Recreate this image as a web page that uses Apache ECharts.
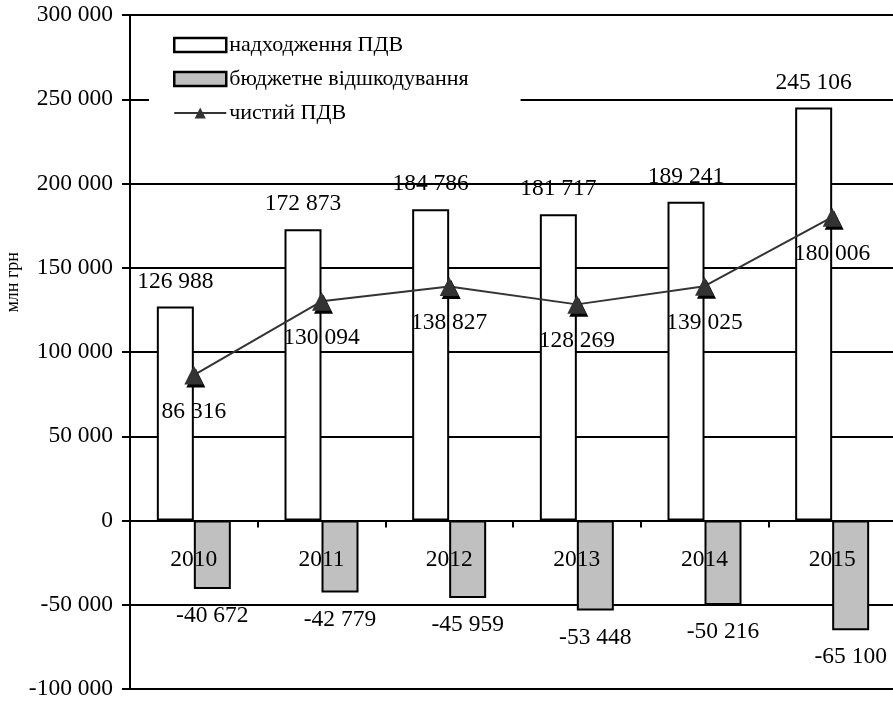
<!DOCTYPE html>
<html><head><meta charset="utf-8">
<script src="https://cdn.jsdelivr.net/npm/echarts@6/dist/echarts.min.js"></script>
<style>html,body{margin:0;padding:0;background:#fff}#c{width:893px;height:701px}</style>
</head><body><div id="c"></div>
<script>
const categories = ['2010','2011','2012','2013','2014','2015'];
const income = [126988, 172873, 184786, 181717, 189241, 245106];
const refund = [-40672, -42779, -45959, -53448, -50216, -65100];
const net = [86316, 130094, 138827, 128269, 139025, 180006];
const seriesNames = ['надходження ПДВ', 'бюджетне відшкодування', 'чистий ПДВ'];
const yName = 'млн грн';

const FONT = '"Liberation Serif","Times New Roman",serif';
const fmt = v => { const s = String(Math.abs(v)).replace(/\B(?=(\d{3})+(?!\d))/g, ' '); return (v < 0 ? '-' : '') + s; };
const lbl = { color:'#000', fontFamily: FONT, fontSize: 23.5 };

const chart = echarts.init(document.getElementById('c'), null, {renderer:'canvas'});
chart.setOption({
  animation: false,
  backgroundColor: '#fff',
  textStyle: { fontFamily: FONT, color:'#000' },
  grid: { left: 130, right: -3, top: 15, bottom: 12, containLabel: false, outerBoundsMode: 'none' },
  graphic: [{
    type: 'text', left: 4, top: 252, rotation: Math.PI / 2,
    style: { text: yName, fontFamily: FONT, fontSize: 18, fill: '#000' }
  }],
  legend: {
    left: 149, top: 22,
    orient: 'vertical',
    backgroundColor: '#fff',
    padding: [12, 52, 12, 24],
    itemWidth: 52, itemHeight: 14, itemGap: 12,
    lineStyle: { width: 2, color: '#333' },
    textStyle: { fontFamily: FONT, fontSize: 22, color:'#000', padding:[0,0,0,-2] },
    data: [
      { name: seriesNames[0], icon: 'rect', itemStyle: { color: '#fff', borderColor: '#000', borderWidth: 2.5 } },
      { name: seriesNames[1], icon: 'rect', itemStyle: { color: '#c0c0c0', borderColor: '#000', borderWidth: 2.5 } },
      { name: seriesNames[2], itemStyle: { borderWidth: 0, color: '#333' } }
    ]
  },
  xAxis: {
    type: 'category', data: categories,
    z: 10,
    offset: -168.5,
    axisLine: { onZero: false, lineStyle: { color:'#000', width: 2 } },
    axisTick: { show: true, length: 7, inside: false, lineStyle:{ color:'#000', width: 2 } },
    axisLabel: { ...lbl, margin: 27 },
    splitLine: { show: false }
  },
  yAxis: {
    type: 'value', min: -100000, max: 300000, interval: 50000,
    axisLine: { show: true, lineStyle: { color:'#000', width: 2 } },
    axisTick: { show: true, length: 8, lineStyle:{ color:'#000', width: 2 } },
    axisLabel: { ...lbl, margin: 17, formatter: fmt },
    splitLine: { show: true, lineStyle: { color:'#000', width: 2 } }
  },
  series: [
    { name: seriesNames[0], type: 'bar', data: income, barWidth: 37, barGap: '0%',
      itemStyle: { color:'#fff', borderColor:'#000', borderWidth: 2 },
      label: { show: true, position: 'top', distance: 13, ...lbl, formatter: p => fmt(p.value) } },
    { name: seriesNames[1], type: 'bar', data: refund, barWidth: 37, barGap: '0%',
      itemStyle: { color:'#c0c0c0', borderColor:'#000', borderWidth: 2 },
      label: { show: true, position: 'bottom', distance: 15, ...lbl, formatter: p => fmt(p.value) } },
    { name: seriesNames[2], type: 'line', data: net, symbol: 'triangle', symbolSize: 19, z: 5,
      lineStyle: { color:'#333', width: 2 },
      itemStyle: { color:'#333', shadowColor:'#000', shadowOffsetX: 2, shadowOffsetY: 3, shadowBlur: 0 },
      label: { show: true, position: 'bottom', distance: 15, ...lbl, formatter: p => fmt(p.value) } }
  ]
});
</script></body></html>
